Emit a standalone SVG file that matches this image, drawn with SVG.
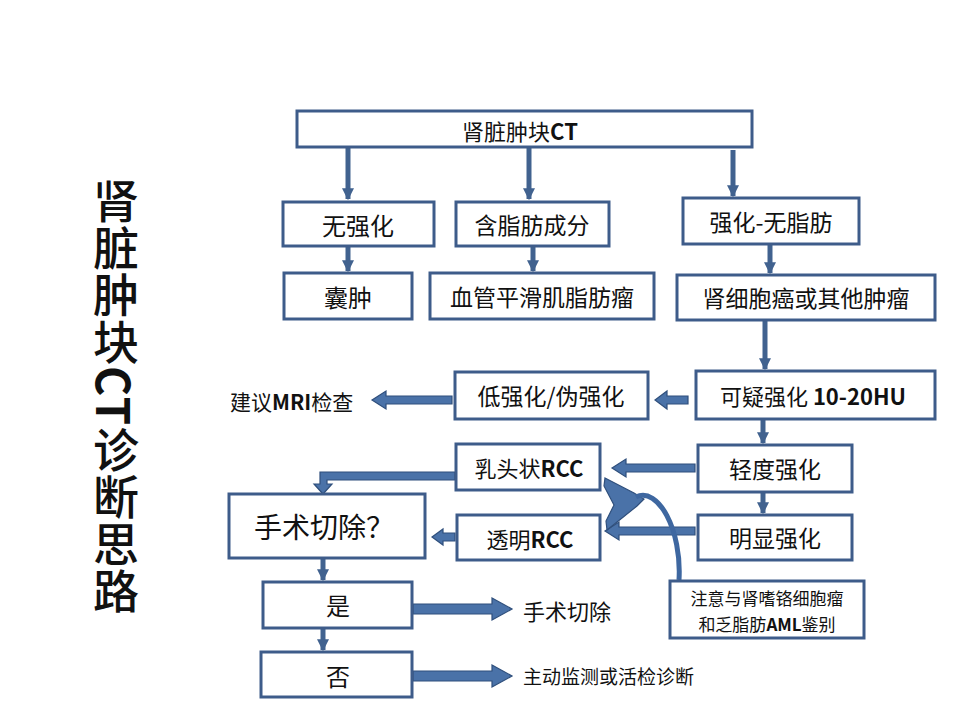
<svg xmlns="http://www.w3.org/2000/svg" width="960" height="720" viewBox="0 0 960 720">
<defs>
<style>
.box{fill:#ffffff;stroke:#3e5c8a;stroke-width:3}
.t{font-family:"Noto Sans CJK SC","Liberation Sans",sans-serif;fill:#111;text-anchor:middle;dominant-baseline:central}
.ln{stroke:#41628f;stroke-width:5;fill:none}
.blk{fill:#4a72a8;stroke:#2f4f7c;stroke-width:1.2}
.lbl{font-family:"Noto Sans CJK SC","Liberation Sans",sans-serif;fill:#111;dominant-baseline:central}
.b{font-weight:bold}
</style>
<marker id="ah" viewBox="0 0 10 10" refX="9" refY="5" markerWidth="14" markerHeight="12" markerUnits="userSpaceOnUse" orient="auto">
<path d="M0,0 L10,5 L0,10 Z" fill="#41628f"/>
</marker>
</defs>
<rect width="960" height="720" fill="#ffffff"/>

<text id="title" x="116" y="178" font-family="'Noto Sans CJK SC','Liberation Sans',sans-serif" font-size="46" font-weight="500" fill="#111" style="writing-mode:vertical-rl" letter-spacing="1">肾脏肿块<tspan font-weight="bold">CT</tspan>诊断思路</text>

<g id="connectors">
<line class="ln" x1="348" y1="148" x2="348" y2="199" marker-end="url(#ah)"/>
<line class="ln" x1="529" y1="148" x2="529" y2="199" marker-end="url(#ah)"/>
<line class="ln" x1="733" y1="150" x2="733" y2="196" marker-end="url(#ah)"/>
<line class="ln" x1="348" y1="247" x2="348" y2="271" marker-end="url(#ah)"/>
<line class="ln" x1="533" y1="247" x2="533" y2="271" marker-end="url(#ah)"/>
<line class="ln" x1="770" y1="245" x2="770" y2="273" marker-end="url(#ah)"/>
<line class="ln" x1="765" y1="321" x2="765" y2="369" marker-end="url(#ah)"/>
<line class="ln" x1="763" y1="420" x2="763" y2="443" marker-end="url(#ah)"/>
<line class="ln" x1="763" y1="493" x2="763" y2="513" marker-end="url(#ah)"/>
<line class="ln" x1="323" y1="559" x2="323" y2="580" marker-end="url(#ah)"/>
<line class="ln" x1="323" y1="629" x2="323" y2="650" marker-end="url(#ah)"/>
<polygon class="blk" points="688,396 667,396 667,391 655,400 667,409 667,404 688,404"/>
<polygon class="blk" points="452,396 386,396 386,391 372,400 386,409 386,404 452,404"/>
<polygon class="blk" points="695,464 626,464 626,459 612,468 626,477 626,472 695,472"/>
<polygon class="blk" points="695,527 619,527 619,522 605,531 619,540 619,535 695,535"/>
<polygon class="blk" points="455,533 443,533 443,529 432,537 443,545 443,541 455,541"/>
<polygon class="blk" points="455,472 320,472 320,484 314,484 323,494 332,484 327,484 327,480 455,480"/>
<polygon class="blk" points="413,604 492,604 492,598 512,609 492,620 492,614 413,614"/>
<polygon class="blk" points="413,671 492,671 492,665 512,676 492,687 492,681 413,681"/>
<polygon class="blk" points="605,478 634,493 644,499 637,506 607,530 606,521 614,505 604,486"/>
<path d="M636,497 C658,486 682,530 679,580" stroke="#3e67a0" stroke-width="5" fill="none"/>
<path d="M671,580 L687,580 L679,590 Z" fill="#3e67a0"/>
</g>

<g id="n-top"><rect class="box" x="297" y="111" width="455" height="36"/><text class="t" x="520" y="130" font-size="22">肾脏肿块<tspan class="b">CT</tspan></text></g>
<g id="n-wuqianghua"><rect class="box" x="283" y="202" width="151" height="44"/><text class="t" x="358" y="224" font-size="24">无强化</text></g>
<g id="n-hanzhifang"><rect class="box" x="456" y="202" width="153" height="44"/><text class="t" x="532" y="224" font-size="23">含脂肪成分</text></g>
<g id="n-qianghua"><rect class="box" x="683" y="198" width="176" height="46"/><text class="t" x="771" y="221" font-size="23">强化-无脂肪</text></g>
<g id="n-nangzhong"><rect class="box" x="284" y="273" width="128" height="46"/><text class="t" x="348" y="296" font-size="24">囊肿</text></g>
<g id="n-aml"><rect class="box" x="430" y="273" width="224" height="46"/><text class="t" x="542" y="296" font-size="23">血管平滑肌脂肪瘤</text></g>
<g id="n-rcc"><rect class="box" x="677" y="275" width="258" height="45"/><text class="t" x="806" y="297" font-size="23">肾细胞癌或其他肿瘤</text></g>
<g id="n-keyi"><rect class="box" x="696" y="371" width="239" height="48"/><text class="t" x="813" y="395" font-size="22">可疑强化 <tspan class="b">10-20HU</tspan></text></g>
<g id="n-di"><rect class="box" x="455" y="372" width="193" height="47"/><text class="t" x="551" y="395" font-size="23">低强化/伪强化</text></g>
<g id="n-mri"><text class="lbl" x="230" y="401" font-size="21">建议<tspan class="b">MRI</tspan>检查</text></g>
<g id="n-qingdu"><rect class="box" x="698" y="445" width="154" height="47"/><text class="t" x="775" y="468" font-size="23">轻度强化</text></g>
<g id="n-rutou"><rect class="box" x="456" y="444" width="144" height="46"/><text class="t" x="529" y="467" font-size="22">乳头状<tspan class="b">RCC</tspan></text></g>
<g id="n-mingxian"><rect class="box" x="698" y="515" width="154" height="45"/><text class="t" x="775" y="537" font-size="23">明显强化</text></g>
<g id="n-touming"><rect class="box" x="457" y="515" width="143" height="45"/><text class="t" x="530" y="538" font-size="22">透明<tspan class="b">RCC</tspan></text></g>
<g id="n-shoushu"><rect class="box" x="229" y="494" width="196" height="64"/><text class="t" x="324" y="526" font-size="28">手术切除？</text></g>
<g id="n-shi"><rect class="box" x="263" y="582" width="149" height="46"/><text class="t" x="338" y="604" font-size="24">是</text></g>
<g id="n-fou"><rect class="box" x="261" y="652" width="151" height="45"/><text class="t" x="338" y="675" font-size="24">否</text></g>
<g id="n-zhuyi"><rect class="box" x="670" y="581" width="194" height="57"/><text class="t" x="767" y="597" font-size="17">注意与肾嗜铬细胞瘤</text><text class="t" x="767" y="623" font-size="17">和乏脂肪<tspan class="b">AML</tspan>鉴别</text></g>
<g id="n-shoushuqiechu"><text class="lbl" x="523" y="610" font-size="22">手术切除</text></g>
<g id="n-zhudong"><text class="lbl" x="523" y="675" font-size="19">主动监测或活检诊断</text></g>
</svg>
